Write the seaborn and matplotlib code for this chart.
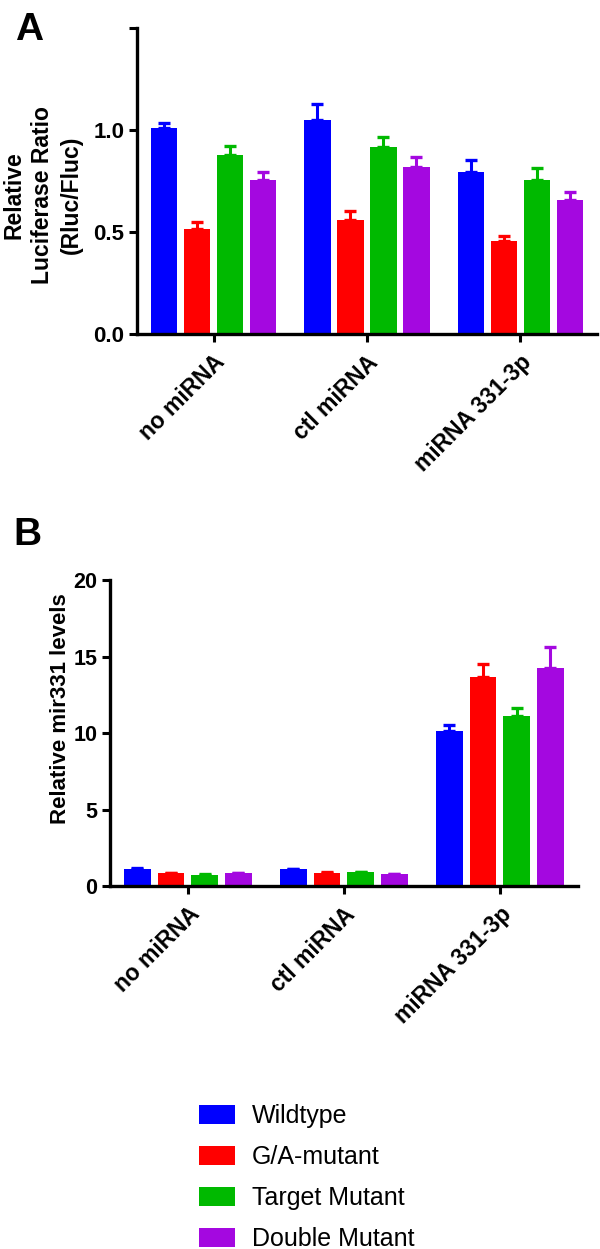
import matplotlib
matplotlib.use("Agg")
import matplotlib.pyplot as plt
import seaborn as sns
import pandas as pd
import numpy as np

# categories and series
conditions = ["no miRNA", "ctl miRNA", "miRNA 331-3p"]
constructs = ["Wildtype", "G/A-mutant", "Target Mutant", "Double Mutant"]
colors = ["#0000FF", "#FF0000", "#00B900", "#A408E0"]

# panel A: relative luciferase ratio (mean, sem) per construct across conditions
luc_wildtype = [1.01, 1.047, 0.796]
luc_ga_mutant = [0.513, 0.560, 0.458]
luc_target_mutant = [0.877, 0.918, 0.757]
luc_double_mutant = [0.753, 0.820, 0.657]
luc_wildtype_sem = [0.023, 0.080, 0.059]
luc_ga_mutant_sem = [0.038, 0.043, 0.022]
luc_target_mutant_sem = [0.046, 0.048, 0.055]
luc_double_mutant_sem = [0.043, 0.048, 0.041]

# panel B: relative mir331 levels
mir_wildtype = [1.13, 1.09, 10.15]
mir_ga_mutant = [0.83, 0.87, 13.63]
mir_target_mutant = [0.74, 0.89, 11.13]
mir_double_mutant = [0.83, 0.78, 14.26]
mir_wildtype_sem = [0.03, 0.02, 0.39]
mir_ga_mutant_sem = [0.02, 0.02, 0.91]
mir_target_mutant_sem = [0.02, 0.03, 0.52]
mir_double_mutant_sem = [0.02, 0.02, 1.34]


def make_frame(means, sems):
    rows = []
    for name, m, s in zip(constructs, means, sems):
        for c, v, e in zip(conditions, m, s):
            rows.append({"condition": c, "construct": name, "value": v, "sem": e})
    return pd.DataFrame(rows)


df_a = make_frame([luc_wildtype, luc_ga_mutant, luc_target_mutant, luc_double_mutant],
                  [luc_wildtype_sem, luc_ga_mutant_sem, luc_target_mutant_sem, luc_double_mutant_sem])
df_b = make_frame([mir_wildtype, mir_ga_mutant, mir_target_mutant, mir_double_mutant],
                  [mir_wildtype_sem, mir_ga_mutant_sem, mir_target_mutant_sem, mir_double_mutant_sem])

sns.set_theme(style="ticks")
plt.rcParams['font.family'] = ['Liberation Sans', 'DejaVu Sans']
plt.rcParams['text.color'] = 'black'
plt.rcParams['axes.labelcolor'] = 'black'
plt.rcParams['xtick.color'] = 'black'
plt.rcParams['ytick.color'] = 'black'
plt.rcParams['axes.edgecolor'] = 'black'

fig = plt.figure(figsize=(6, 12.49), dpi=100)
ax_a = fig.add_axes([0.228, 0.7326, 0.767, 0.245])
ax_b = fig.add_axes([0.183, 0.2906, 0.780, 0.2450])


def draw_panel(ax, df, legend, ticksize):
    sns.barplot(data=df, x="condition", y="value", hue="construct",
                order=conditions, hue_order=constructs, palette=colors,
                width=0.86, gap=0.2, errorbar=None, legend=legend, ax=ax,
                saturation=1, edgecolor="none")
    # upper-only sem bars in the bar colour
    for container, name, col in zip(ax.containers, constructs, colors):
        sub = df[df["construct"] == name].set_index("condition").loc[conditions]
        xs = [p.get_x() + p.get_width() / 2 for p in container.patches]
        ax.errorbar(xs, sub["value"].values,
                    yerr=[np.zeros(len(xs)), sub["sem"].values],
                    fmt="none", ecolor=col, elinewidth=2.2, capsize=4, capthick=2.4)
    ax.set_xlim(-0.5, 2.5)
    ax.set_xlabel("")
    sns.despine(ax=ax)
    for side in ["left", "bottom"]:
        ax.spines[side].set_linewidth(2.4)
    ax.tick_params(width=2.2, length=6, labelsize=ticksize, pad=3)
    ax.tick_params(axis="x", pad=6)
    ax.set_xticks(range(len(conditions)))
    ax.set_xticklabels(conditions, rotation=45, ha="right", rotation_mode="anchor",
                       fontsize=16.5, fontweight="bold")


draw_panel(ax_a, df_a, True, 16)
handles, labels = ax_a.get_legend_handles_labels()
ax_a.legend_.remove()
ax_a.set_ylim(0, 1.5)
ax_a.set_yticks([0, 0.5, 1.0, 1.5])
ax_a.set_yticklabels(["0.0", "0.5", "1.0", ""], fontweight="bold", fontsize=16)
ax_a.set_ylabel("Relative\nLuciferase Ratio\n(Rluc/Fluc)", fontsize=16.5,
                fontweight="bold", linespacing=1.3)
ax_a.yaxis.set_label_coords(-0.118, 0.455)

draw_panel(ax_b, df_b, False, 15)
ax_b.set_ylim(0, 20)
ax_b.set_yticks([0, 5, 10, 15, 20])
ax_b.set_yticklabels(["0", "5", "10", "15", "20"], fontweight="bold", fontsize=15.5)
ax_b.set_ylabel("Relative mir331 levels", fontsize=16, fontweight="bold")
ax_b.yaxis.set_label_coords(-0.082, 0.58)

fig.text(0.025, 0.968, "A", fontsize=28, fontweight="bold", va="baseline")
fig.text(0.023, 0.5636, "B", fontsize=28, fontweight="bold", va="baseline")

fig.legend(handles, labels, loc="upper left", bbox_to_anchor=(0.332, 0.116),
           frameon=False, fontsize=18, handlelength=1.45, handleheight=0.82,
           labelspacing=0.68, handletextpad=0.65, borderaxespad=0, borderpad=0)

fig.savefig("out.png", dpi=100)
